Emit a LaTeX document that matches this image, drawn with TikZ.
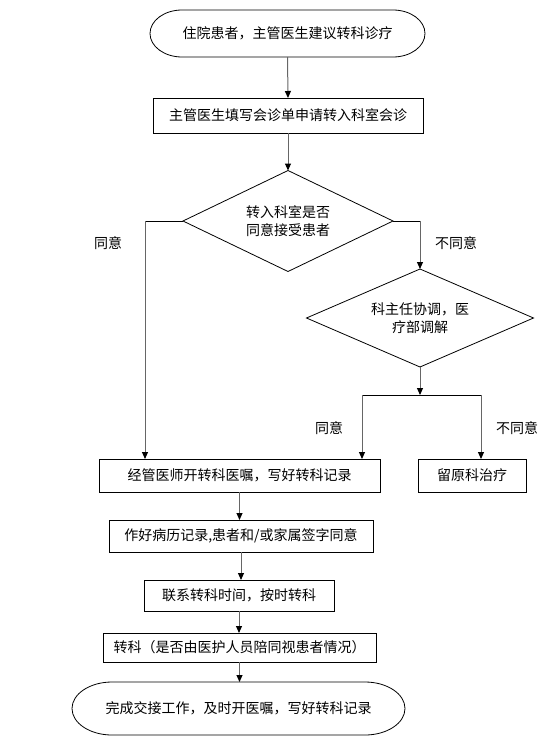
\documentclass[tikz,border=0pt]{standalone}
\usepackage{fontspec}
\setmainfont{Noto Sans CJK SC}
\usetikzlibrary{arrows.meta,shapes.geometric}
\definecolor{LineClr}{rgb}{0.4,0.4,0.4}
\newcommand{\DrawTerm}[3]{%
  \draw[line width=0.8pt] ([xshift=#2]#1.north west) -- ([xshift=-#2]#1.north east)
    arc[start angle=90,end angle=-90,x radius=#2,y radius=#3]
    -- ([xshift=#2]#1.south west)
    arc[start angle=270,end angle=90,x radius=#2,y radius=#3] -- cycle;}

\begin{document}
\begin{tikzpicture}[x=1pt,y=-1pt,
  font=\fontsize{14}{18}\selectfont,
  box/.style={draw,line width=0.8pt,inner sep=0pt,outer sep=0pt},
  term/.style={inner sep=0pt,outer sep=0pt},
  decide/.style={diamond,draw,line width=0.8pt,inner sep=0pt,outer sep=0pt,align=center},
  arrow/.style={draw=LineClr,line width=1pt,-{Triangle[color=black,width=6pt,length=7pt]}},
  line/.style={draw=black,line width=0.8pt}]
\useasboundingbox (0,0) rectangle (552,736);

% nodes
\node[term,minimum width=275pt,minimum height=47pt] (start) at (287.5,33.5) {住院患者，主管医生建议转科诊疗};
\node[box,minimum width=270pt,minimum height=35pt] (apply) at (288,115.5) {主管医生填写会诊单申请转入科室会诊};
\node[decide,aspect=2.08,minimum width=210pt,minimum height=101pt] (accept) at (288,221) {转入科室是否\\同意接受患者};
\node[decide,aspect=2.32,minimum width=227pt,minimum height=98pt] (coord) at (420,318) {科主任协调，医\\疗部调解};
\node[box,minimum width=281pt,minimum height=33pt] (order) at (239.5,475.5) {经管医师开转科医嘱，写好转科记录};
\node[box,minimum width=108pt,minimum height=33pt] (stay) at (472,475.5) {留原科治疗};
\node[box,minimum width=264pt,minimum height=32pt] (record) at (241,536) {作好病历记录,患者和/或家属签字同意};
\node[box,minimum width=190pt,minimum height=31pt] (contact) at (239,595.5) {联系转科时间，按时转科};
\node[box,minimum width=273pt,minimum height=29pt] (transfer) at (239.5,647.5) {转科（是否由医护人员陪同视患者情况）};
\node[term,minimum width=333pt,minimum height=53pt] (finish) at (238.5,708.5) {完成交接工作，及时开医嘱，写好转科记录};

\DrawTerm{start}{32pt}{23.5pt}
\DrawTerm{finish}{40pt}{26.5pt}

% labels
\node (yesA) at (108,243) {同意};
\node (noA) at (456,243) {不同意};
\node (yesB) at (329,428) {同意};
\node (noB) at (517,428) {不同意};

% connectors
\coordinate (agreeL) at (145,221);
\coordinate (agreeR) at (420,221);
\coordinate (branch) at (420,395);
\coordinate (branchL) at (362,395);
\coordinate (branchR) at (481,395);

\draw[arrow] (start.south) -- (apply.north);
\draw[arrow] (apply.south) -- (accept.north);
\draw[line] (accept.west) -- (agreeL);
\draw[arrow] (agreeL) -- (agreeL |- order.north);
\draw[line] (accept.east) -- (agreeR);
\draw[arrow] (agreeR) -- (coord.north);
\draw[arrow] (coord.south) -- (branch);
\draw[line] (branchL) -- (branchR);
\draw[arrow] (branchL) -- (branchL |- order.north);
\draw[arrow] (branchR) -- (branchR |- stay.north);
\draw[arrow] (order.south) -- (order.south |- record.north);
\draw[arrow] (record.south) -- (record.south |- contact.north);
\draw[arrow] (contact.south) -- (contact.south |- transfer.north);
\draw[arrow] (transfer.south) -- (transfer.south |- finish.north);

\end{tikzpicture}
\end{document}
